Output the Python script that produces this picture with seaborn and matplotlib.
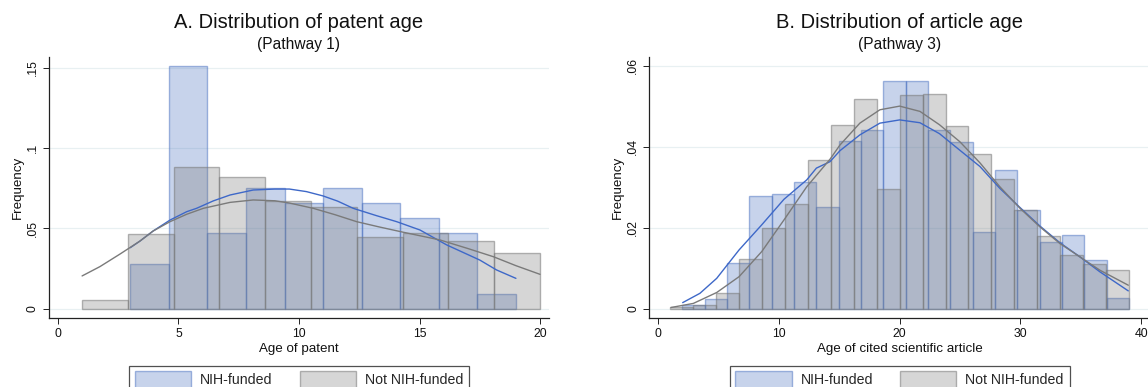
import numpy as np
import pandas as pd
import matplotlib
matplotlib.use("Agg")
import matplotlib.pyplot as plt
import seaborn as sns
from matplotlib.patches import Patch
from matplotlib.ticker import FixedLocator, FixedFormatter

# ---------------- Data ----------------
# Panel A: patent age (Pathway 1)
a_nih_edges = [3.0, 4.6, 6.2, 7.8, 9.4, 11.0, 12.6, 14.2, 15.8, 17.4, 19.0]
a_nih_heights = [0.028, 0.1513, 0.047, 0.0753, 0.0656, 0.0753, 0.066, 0.0563, 0.047, 0.009]
a_not_edges = [1.0, 2.9, 4.8, 6.7, 8.6, 10.5, 12.4, 14.3, 16.2, 18.1, 20.0]
a_not_heights = [0.0052, 0.0463, 0.0884, 0.0822, 0.067, 0.0635, 0.0448, 0.0473, 0.042, 0.0349]

a_nih_kde_x = [3.0, 3.4, 3.95, 4.65, 5.34, 5.75, 6.44, 7.14, 8.1, 9.0, 9.6, 10.31, 11.0,
               11.6, 12.25, 13.2, 14.05, 15.02, 16.13, 17.5, 18.2, 19.0]
a_nih_kde_y = [0.038, 0.0421, 0.0484, 0.0552, 0.0604, 0.0625, 0.0671, 0.0708, 0.0739, 0.0745,
               0.0745, 0.0729, 0.0702, 0.067, 0.0625, 0.058, 0.0542, 0.049, 0.0397, 0.0303,
               0.0241, 0.0189]
a_not_kde_x = [1.0, 1.74, 2.57, 3.4, 3.95, 4.65, 5.34, 6.03, 7.14, 8.1, 9.0, 9.6, 10.59,
               11.5, 12.39, 13.3, 14.33, 15.85, 17.0, 18.06, 19.0, 20.0]
a_not_kde_y = [0.0204, 0.0262, 0.034, 0.0421, 0.0484, 0.0542, 0.0588, 0.0625, 0.0662, 0.0677,
               0.0672, 0.0658, 0.0625, 0.0585, 0.0542, 0.051, 0.0476, 0.0428, 0.0375, 0.0324,
               0.0268, 0.0214]

# Panel B: article age (Pathway 3)
b_nih_edges = [2.0, 3.85, 5.7, 7.55, 9.4, 11.25, 13.1, 14.95, 16.8, 18.65, 20.5, 22.35,
               24.2, 26.05, 27.9, 29.75, 31.6, 33.45, 35.3, 37.15, 39.0]
b_nih_heights = [0.001, 0.0023, 0.0114, 0.0278, 0.0283, 0.0313, 0.025, 0.0414, 0.0442, 0.0562,
                 0.0562, 0.0442, 0.0411, 0.019, 0.0343, 0.0244, 0.0164, 0.0183, 0.0121, 0.0026]
b_not_edges = [1.0, 2.9, 4.8, 6.7, 8.6, 10.5, 12.4, 14.3, 16.2, 18.1, 20.0, 21.9, 23.8,
               25.7, 27.6, 29.5, 31.4, 33.3, 35.2, 37.1, 39.0]
b_not_heights = [0.0005, 0.0009, 0.0038, 0.0123, 0.0199, 0.0258, 0.0366, 0.0454, 0.0518, 0.0295,
                 0.0528, 0.0531, 0.0452, 0.0383, 0.0321, 0.0244, 0.0179, 0.0132, 0.0111, 0.0096]

b_nih_kde_x = [2.02, 3.45, 4.84, 6.69, 8.57, 10.41, 12.3, 13.1, 14.23, 15.05, 16.7, 18.36, 20.0,
               21.68, 23.3, 24.99, 26.65, 28.3, 29.96, 31.62, 33.27, 34.93, 36.59, 38.94]
b_nih_kde_y = [0.0015, 0.0038, 0.0075, 0.0145, 0.0207, 0.027, 0.0318, 0.0347, 0.0363, 0.039,
               0.0429, 0.0458, 0.0466, 0.0459, 0.0432, 0.0391, 0.0351, 0.0297, 0.025, 0.0204,
               0.0163, 0.0128, 0.0091, 0.0044]
b_not_kde_x = [1.05, 2.9, 4.84, 6.69, 8.57, 10.41, 12.3, 14.23, 15.05, 16.7, 18.36, 20.0,
               21.68, 23.3, 24.99, 26.65, 28.3, 29.96, 31.62, 33.27, 34.93, 36.59, 38.94]
b_not_kde_y = [0.0003, 0.0013, 0.004, 0.0079, 0.0141, 0.0219, 0.0301, 0.0369, 0.0404, 0.0458,
               0.0491, 0.05, 0.0487, 0.0454, 0.0412, 0.036, 0.0301, 0.0248, 0.0202, 0.0161,
               0.0128, 0.0095, 0.0058]

titles = ["A. Distribution of patent age", "B. Distribution of article age"]
subtitles = ["(Pathway 1)", "(Pathway 3)"]
xlabels = ["Age of patent", "Age of cited scientific article"]
ylabel = "Frequency"
legend_labels = ["NIH-funded", "Not NIH-funded"]
a_xticks = [0, 5, 10, 15, 20]
a_yticks = [0, 0.05, 0.1, 0.15]
a_yticklabels = ["0", ".05", ".1", ".15"]
b_xticks = [0, 10, 20, 30, 40]
b_yticks = [0, 0.02, 0.04, 0.06]
b_yticklabels = ["0", ".02", ".04", ".06"]

# ---------------- Style ----------------
sns.set_theme(style="white")
plt.rcParams["font.family"] = ["Liberation Sans", "DejaVu Sans"]

W, H = 1148, 387
fig = plt.figure(figsize=(W / 100, H / 100), dpi=100)

blue_face = (72 / 255, 112 / 255, 192 / 255, 0.30)
blue_edge = (72 / 255, 112 / 255, 192 / 255, 0.50)
gray_face = (120 / 255, 120 / 255, 120 / 255, 0.30)
gray_edge = (120 / 255, 120 / 255, 120 / 255, 0.55)
blue_line = "#3E68C8"
gray_line = "#7A7A7A"
grid_col = "#E8F0F2"

ax_bottom_px, ax_top_px = 317.7, 56.7
axA = fig.add_axes([49 / W, 1 - ax_bottom_px / H, 500 / W, (ax_bottom_px - ax_top_px) / H])
axB = fig.add_axes([649.3 / W, 1 - ax_bottom_px / H, 500.7 / W, (ax_bottom_px - ax_top_px) / H])


def centers(edges):
    e = np.asarray(edges)
    return (e[:-1] + e[1:]) / 2


def draw_panel(ax, nih_e, nih_h, not_e, not_h, nk_x, nk_y, ok_x, ok_y,
               xlim, ylim, xt, yt, ytl, xlabel):
    sns.histplot(x=centers(nih_e), weights=nih_h, bins=nih_e, stat="count", ax=ax,
                 facecolor=blue_face, edgecolor=blue_edge, linewidth=1.0, zorder=2)
    sns.histplot(x=centers(not_e), weights=not_h, bins=not_e, stat="count", ax=ax,
                 facecolor=gray_face, edgecolor=gray_edge, linewidth=1.0, zorder=3)
    sns.lineplot(x=nk_x, y=nk_y, ax=ax, color=blue_line, lw=1.0, zorder=4, sort=False)
    sns.lineplot(x=ok_x, y=ok_y, ax=ax, color=gray_line, lw=1.0, zorder=5, sort=False)

    ax.set_xlim(*xlim)
    ax.set_ylim(*ylim)
    ax.xaxis.set_major_locator(FixedLocator(xt))
    ax.xaxis.set_major_formatter(FixedFormatter([str(v) for v in xt]))
    ax.yaxis.set_major_locator(FixedLocator(yt))
    ax.yaxis.set_major_formatter(FixedFormatter(ytl))

    ax.yaxis.grid(True, color=grid_col, lw=0.9)
    ax.xaxis.grid(False)
    ax.set_axisbelow(True)
    for s in ["top", "right"]:
        ax.spines[s].set_visible(False)
    for s in ["left", "bottom"]:
        ax.spines[s].set_color("#222222")
        ax.spines[s].set_linewidth(0.9)
    ax.tick_params(axis="both", direction="out", length=4.3, width=0.7, color="#222222",
                   labelsize=8.8, pad=3, left=True, bottom=True, labelcolor="#111111")
    for lab in ax.get_yticklabels():
        lab.set_rotation(90)
        lab.set_va("center")
        lab.set_ha("right")

    ax.set_xlabel(xlabel, fontsize=9.6, color="#111111")
    ax.xaxis.set_label_coords(0.5, -0.098)
    ax.xaxis.label.set_va("top")
    ax.set_ylabel(ylabel, fontsize=9.6, color="#111111")
    ax.yaxis.set_label_coords(-0.05, 0.5)


draw_panel(axA, a_nih_edges, a_nih_heights, a_not_edges, a_not_heights,
           a_nih_kde_x, a_nih_kde_y, a_not_kde_x, a_not_kde_y,
           (-0.373, 20.373), (-0.0056, 0.1569), a_xticks, a_yticks, a_yticklabels, xlabels[0])
draw_panel(axB, b_nih_edges, b_nih_heights, b_not_edges, b_not_heights,
           b_nih_kde_x, b_nih_kde_y, b_not_kde_x, b_not_kde_y,
           (-0.746, 40.74), (-0.00222, 0.0622), b_xticks, b_yticks, b_yticklabels, xlabels[1])

for ax, t, st in zip([axA, axB], titles, subtitles):
    pos = ax.get_position()
    cx = (pos.x0 + pos.x1) / 2
    fig.text(cx, 1 - 22 / H, t, ha="center", va="center", fontsize=14.5, color="#111111")
    fig.text(cx, 1 - 44 / H, st, ha="center", va="center", fontsize=11.2, color="#111111")

    handles = [Patch(facecolor=blue_face, edgecolor=blue_edge, linewidth=1.0),
               Patch(facecolor=gray_face, edgecolor=gray_edge, linewidth=1.0)]
    leg = fig.legend(handles, legend_labels, loc="upper center",
                     bbox_to_anchor=(cx, 1 - 365.7 / H), ncol=2, frameon=True,
                     fancybox=False, edgecolor="#505050", handlelength=3.96,
                     handleheight=1.4, handletextpad=0.65, columnspacing=1.9,
                     borderpad=0.4, borderaxespad=0, fontsize=10.2, framealpha=1)
    leg.get_frame().set_linewidth(0.9)

fig.savefig("out.png", dpi=100)
